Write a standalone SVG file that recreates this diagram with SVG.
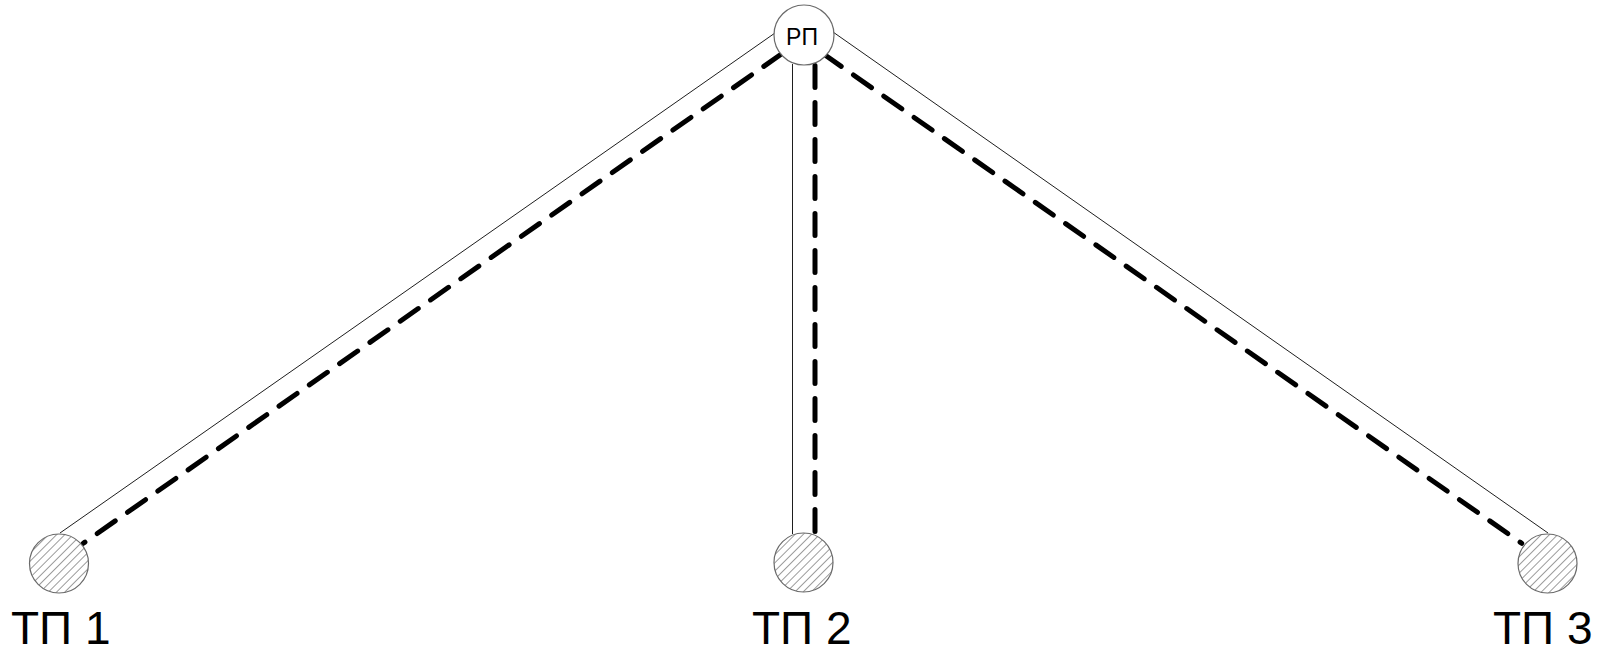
<svg xmlns="http://www.w3.org/2000/svg" width="1602" height="654" viewBox="0 0 1602 654">
  <defs>
    <!-- diagonal hatching used inside the substation circles -->
    <pattern id="hatch" patternUnits="userSpaceOnUse" width="5.8" height="5.8" patternTransform="rotate(45)">
      <rect width="5.8" height="5.8" fill="#ffffff"/>
      <line x1="0" y1="0" x2="0" y2="5.8" stroke="#4a4a4a" stroke-width="1.1"/>
    </pattern>
    <style>
      .cable { fill: none; stroke: #1e1e1e; stroke-width: 1; }
      .route { fill: none; stroke: #000000; stroke-width: 5; stroke-linecap: round; stroke-dasharray: 22 15; }
      .tp { fill: url(#hatch); stroke: #6a6a6a; stroke-width: 1.2; }
      .rp { fill: #ffffff; stroke: #6a6a6a; stroke-width: 1.2; }
      .label { font-family: "Liberation Sans", Arial, sans-serif; fill: #000000; }
    </style>
  </defs>

  <rect width="1602" height="654" fill="#ffffff"/>

  <!-- cable lines: thin existing line plus thick dashed route -->
  <g id="connectors">
    <line class="cable" x1="775" y1="33" x2="60" y2="533"/>
    <path class="route" d="M83.3,543.3 L780,55" stroke-dashoffset="20"/>

    <line class="cable" x1="792.5" y1="64" x2="792.5" y2="534"/>
    <path class="route" d="M815,65.5 L815,531.5"/>

    <line class="cable" x1="833" y1="32" x2="1548" y2="533"/>
    <path class="route" d="M1521.7,543.3 L825,55" stroke-dashoffset="20"/>
  </g>

  <g id="rp">
    <circle class="rp" cx="804" cy="35" r="30"/>
    <text class="label" x="802" y="45" font-size="23" text-anchor="middle">РП</text>
  </g>

  <g id="tp1">
    <circle class="tp" cx="59" cy="563.5" r="29.5"/>
    <text class="label" x="11" y="644" font-size="46">ТП 1</text>
  </g>

  <g id="tp2">
    <circle class="tp" cx="803.5" cy="562.5" r="29.5"/>
    <text class="label" x="752" y="644" font-size="46">ТП 2</text>
  </g>

  <g id="tp3">
    <circle class="tp" cx="1547.5" cy="563.5" r="29.5"/>
    <text class="label" x="1493" y="644" font-size="46">ТП 3</text>
  </g>
</svg>
